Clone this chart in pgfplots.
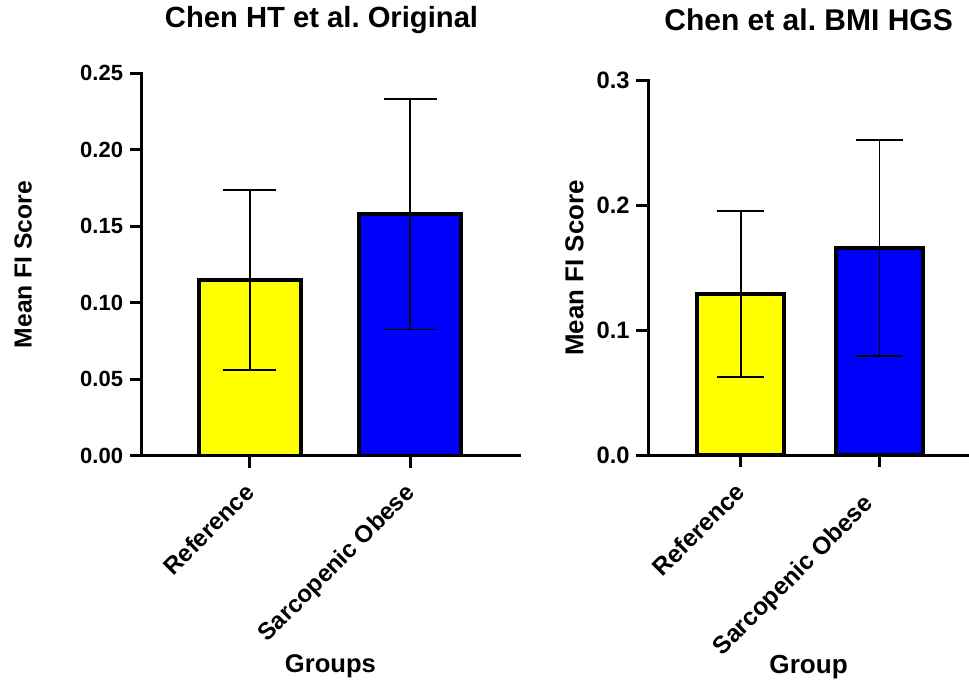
\documentclass[border=0pt]{standalone}
\usepackage{fontspec}
\setmainfont{Liberation Sans}
\usepackage{pgfplots}
\pgfplotsset{compat=1.18}
\definecolor{pyellow}{RGB}{255,255,0}
\definecolor{pblue}{RGB}{0,0,255}
\frenchspacing
\pgfplotsset{
  prism/.style={
    scale only axis,
    anchor=south west,
    axis lines*=left,
    axis line style={line width=2.25pt, line cap=rect},
    tick align=outside,
    major tick length=9pt,
    tick style={line width=2.25pt, black},
    ymin=0,
    xtick={0,1},
    xticklabels={Reference, Sarcopenic Obese},
    xticklabel style={xshift=-5pt, yshift=-9pt, rotate=45, anchor=north east, inner sep=1pt},
    yticklabel style={font=\bfseries\fontsize{16.5}{19}\selectfont, xshift=-1.5pt},
    ylabel={Mean FI Score},
    ybar, bar shift=0pt,
    clip=false,
  },
  errb/.style={
    error bars/.cd, y dir=both, y explicit,
    error bar style={line width=1.4pt, black},
    error mark options={rotate=90, line width=1.4pt, black, mark size=#1},
  },
}
\begin{document}
\begin{tikzpicture}
\path[use as bounding box] (0,0) rectangle (726.75pt,517.5pt);
% Left panel
\begin{axis}[prism,
  at={(106.3pt,175.7pt)},
  width=283pt, height=286.8pt,
  xmin=-0.675, xmax=1.68,
  ymax=0.25,
  ytick={0,0.05,0.10,0.15,0.20,0.25},
  yticklabels={0.00,0.05,0.10,0.15,0.20,0.25},
  xticklabel style={font=\bfseries\fontsize{18}{21}\selectfont},
  bar width=76.5pt,
  title={Chen HT et al. Original},
  title style={font=\bfseries\fontsize{21.9}{25}\selectfont, at={(axis description cs:0.4765,1)}, anchor=base, yshift=28.7pt},
  ylabel style={font=\bfseries\fontsize{18.5}{21}\selectfont, at={(axis description cs:-0.2915,0.5)}, anchor=base},
  xlabel={Groups},
  xlabel style={font=\bfseries\fontsize{19.2}{22}\selectfont, at={(axis description cs:0.5,-0.568)}, anchor=base},
]
\addplot[fill=pyellow, draw=black, line width=2.6pt, errb=19.9pt] coordinates {(0,0.115) +- (0,0.059)};
\addplot[fill=pblue, draw=black, line width=2.6pt, errb=19.9pt] coordinates {(1,0.158) +- (0,0.0755)};
\end{axis}
% Right panel
\begin{axis}[prism,
  at={(486.2pt,176.25pt)},
  width=240.5pt, height=280.7pt,
  xmin=-0.665, xmax=1.644,
  ymax=0.3,
  ytick={0,0.1,0.2,0.3},
  yticklabels={0.0,0.1,0.2,0.3},
  xticklabels={Reference, Sarcopenic Obese\hspace*{12pt}},
  yticklabel style={font=\bfseries\fontsize{17.8}{20}\selectfont},
  xticklabel style={font=\bfseries\fontsize{18.4}{21}\selectfont},
  bar width=65.25pt,
  title={Chen et al. BMI HGS},
  title style={font=\bfseries\fontsize{22.5}{26}\selectfont, at={(axis description cs:0.5,1)}, anchor=base, yshift=31.8pt},
  ylabel style={font=\bfseries\fontsize{19.4}{22}\selectfont, at={(axis description cs:-0.2027,0.5)}, anchor=base},
  xlabel={Group},
  xlabel style={font=\bfseries\fontsize{19.6}{22}\selectfont, at={(axis description cs:0.5,-0.583)}, anchor=base},
]
\addplot[fill=pyellow, draw=black, line width=2.6pt, errb=17.6pt] coordinates {(0,0.129) +- (0,0.0665)};
\addplot[fill=pblue, draw=black, line width=2.6pt, errb=17.6pt] coordinates {(1,0.166) +- (0,0.0868)};
\end{axis}
\end{tikzpicture}
\end{document}
